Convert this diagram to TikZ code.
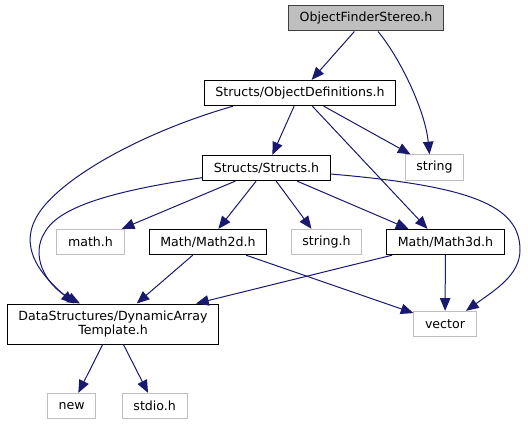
\documentclass[tikz,border=0pt]{standalone}
\usepackage{fontspec}
\setmainfont{DejaVu Sans}
\usetikzlibrary{arrows.meta,calc}
\definecolor{edgeblue}{HTML}{191970}
\definecolor{boxgrey}{HTML}{BFBFBF}
\definecolor{rootgrey}{HTML}{404040}

\begin{document}
\begin{tikzpicture}[x=0.75pt,y=-0.75pt,
    font=\fontsize{9.45}{10.5}\selectfont,
    file/.style={draw=black,line width=0.75pt,fill=white,inner xsep=8.3pt,inner ysep=0pt,minimum height=19pt},
    sysfile/.style={file,draw=boxgrey},
    rootfile/.style={file,draw=rootgrey,fill=boxgrey},
    dep/.style={draw=edgeblue,line width=0.75pt,-{Triangle[length=9.5pt,width=7.8pt]}}]
  \useasboundingbox (0,0) rectangle (528,425);
  \node[rootfile] (ofs) at (366,18.3) {ObjectFinderStereo.h};
  \node[file] (objdef) at (300,93) {Structs/ObjectDefinitions.h};
  \node[sysfile] (string) at (434.5,167.5) {string};
  \node[file] (structs) at (266.5,168) {Structs/Structs.h};
  \node[sysfile] (math) at (90.5,242) {math.h};
  \node[file] (math2d) at (208,242) {Math/Math2d.h};
  \node[sysfile] (stringh) at (326.5,242) {string.h};
  \node[file] (math3d) at (445.5,242) {Math/Math3d.h};
  \node[file,align=center,minimum height=30pt] (dyn) at (113,324) {DataStructures/DynamicArray\\Template.h};
  \node[sysfile] (vector) at (445,324) {vector};
  \node[sysfile] (new) at (71.7,406) {new};
  \node[sysfile] (stdio) at (154.7,406) {stdio.h};
  % ObjectFinderStereo.h
  \draw[dep] (ofs) -- (objdef);
  \draw[dep] ($(ofs.south)+(12,0)$) .. controls (400,58) and (425,110) .. ($(string.north)+(-5,0)$);
  % Structs/ObjectDefinitions.h
  \draw[dep] ($(objdef.south)+(-67,0)$) .. controls (150,130) and (75,170) .. (45,205)
    .. controls (15,240) and (35,270) .. ($(dyn.north)+(-39,0)$);
  \draw[dep] (objdef) -- (structs);
  \draw[dep] (objdef) -- ($(string.north)+(-24,0)$);
  \draw[dep] (objdef) -- ($(math3d.north)+(-18,0)$);
  % Structs/Structs.h
  \draw[dep] ($(structs.south west)+(0,-3.5)$) .. controls (120,190) and (60,205) .. (45,232)
    .. controls (30,255) and (45,285) .. ($(dyn.north)+(-33,0)$);
  \draw[dep] (structs) -- (math);
  \draw[dep] (structs) -- (math2d);
  \draw[dep] (structs) -- ($(stringh.north)+(-15,0)$);
  \draw[dep] (structs) -- ($(math3d.north)+(-37,0)$);
  \draw[dep] ($(structs.east)+(0,6)$) .. controls (470,186) and (520,205) .. (520,250)
    .. controls (520,275) and (495,290) .. ($(vector.north)+(21,0)$);
  % Math
  \draw[dep] (math2d) -- (dyn);
  \draw[dep] (math2d) -- (vector);
  \draw[dep] (math3d) -- (dyn);
  \draw[dep] (math3d) -- (vector);
  % DataStructures/DynamicArrayTemplate.h
  \draw[dep] (dyn) -- (new);
  \draw[dep] (dyn) -- (stdio);
\end{tikzpicture}
\end{document}
